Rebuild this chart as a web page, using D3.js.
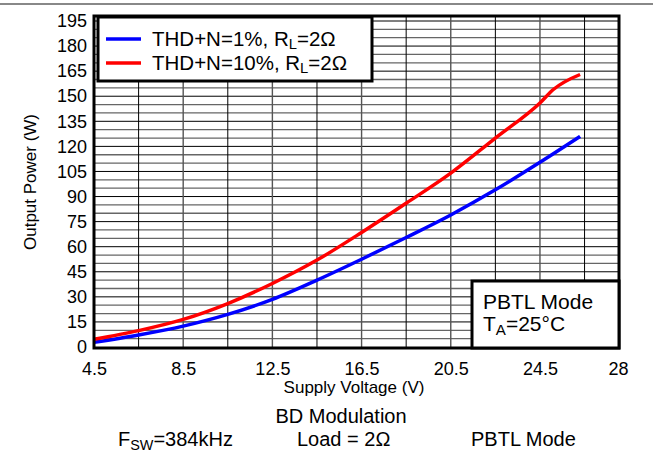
<!DOCTYPE html>
<html><head><meta charset="utf-8">
<script src="https://cdn.jsdelivr.net/npm/d3@7/dist/d3.min.js"></script>
<style>
html,body{margin:0;padding:0;background:#fff;}
svg{display:block;font-family:"Liberation Sans",Arial,sans-serif;}
</style></head><body>
<svg id="c" width="653" height="456"></svg>
<script>
// ---- data ----
const voltage1 = [4.5, 6.5, 8.5, 10.5, 12.5, 14.5, 16.5, 18.5, 20.5, 22.5, 24.5, 26.3];
const power1   = [2.8, 7.2, 12.5, 19.5, 28.5, 40, 52.5, 65.5, 79, 94, 110.5, 126];
const voltage10 = [4.5, 6.5, 8.5, 10.5, 12.5, 14.5, 16.5, 18.5, 20.5, 22.5, 24.5, 25.1, 26.3];
const power10   = [4.6, 9.8, 16.5, 26, 38, 52, 68.5, 86, 104, 125, 146, 154, 163];
const xTicks = [4.5, 8.5, 12.5, 16.5, 20.5, 24.5, 28];
const yTicks = [0, 15, 30, 45, 60, 75, 90, 105, 120, 135, 150, 165, 180, 195];
const seriesNames = ["THD+N=1%, R|L|=2Ω", "THD+N=10%, R|L|=2Ω"];
const seriesColors = ["#0000ff", "#ff0000"];

const svg = d3.select("#c");
const L = 94, R = 619, T = 16, B = 347;
const x = d3.scaleLinear().domain([4.5, 28]).range([L, R - 1]);
const y = d3.scaleLinear().domain([0, 195]).range([B, 21]);

// top rule
svg.append("line").attr("x1", 0).attr("x2", 653).attr("y1", 4).attr("y2", 4)
  .attr("stroke", "#888").attr("stroke-width", 2);

// grid
const g = svg.append("g");
d3.range(5, 196, 5).forEach(v => {
  g.append("line").attr("x1", L).attr("x2", R).attr("y1", y(v)).attr("y2", y(v))
    .attr("stroke", v % 15 === 0 ? "#000" : "#666").attr("stroke-width", v % 15 === 0 ? 1 : 1.3);
});
d3.range(6.5, 27, 2).forEach(v => {
  g.append("line").attr("x1", x(v)).attr("x2", x(v)).attr("y1", T).attr("y2", B)
    .attr("stroke", (v - 4.5) % 4 === 0 ? "#555" : "#000").attr("stroke-width", (v - 4.5) % 4 === 0 ? 1.4 : 1);
});

// curves
const line = d3.line().x(d => x(d[0])).y(d => y(d[1])).curve(d3.curveMonotoneX);
svg.append("path").datum(voltage1.map((v, i) => [v, power1[i]]))
  .attr("d", line).attr("fill", "none").attr("stroke", seriesColors[0]).attr("stroke-width", 3.5);
svg.append("path").datum(voltage10.map((v, i) => [v, power10[i]]))
  .attr("d", line).attr("fill", "none").attr("stroke", seriesColors[1]).attr("stroke-width", 3.5);

// frame
svg.append("rect").attr("x", L).attr("y", T).attr("width", R - L).attr("height", B - T + 1)
  .attr("fill", "none").attr("stroke", "#000").attr("stroke-width", 3);

// axes
const xAxis = svg.append("g").attr("transform", `translate(0,${B})`)
  .call(d3.axisBottom(x).tickValues(xTicks).tickSize(0).tickPadding(15).tickFormat(d3.format("")));
xAxis.select(".domain").remove();
xAxis.selectAll("text").attr("font-size", 18).attr("fill", "#000").attr("font-family", "Liberation Sans, Arial, sans-serif");
const yAxis = svg.append("g").attr("transform", `translate(${L},0)`)
  .call(d3.axisLeft(y).tickValues(yTicks).tickSize(0).tickPadding(7));
yAxis.select(".domain").remove();
yAxis.selectAll("text").attr("font-size", 18).attr("fill", "#000").attr("font-family", "Liberation Sans, Arial, sans-serif");

svg.append("text").attr("x", 354).attr("y", 393).attr("text-anchor", "middle")
  .attr("font-size", 17).text("Supply Voltage (V)");
svg.append("text").attr("transform", "translate(36,182) rotate(-90)").attr("text-anchor", "middle")
  .attr("font-size", 17).text("Output Power (W)");

// helper for subscript text "A|sub|B"
function richText(sel, str, size, drop) {
  const d = drop === undefined ? 0.25 : drop;
  const parts = str.split("|");
  parts.forEach((p, i) => {
    const ts = sel.append("tspan").text(p);
    if (i === 1) ts.attr("font-size", size * 0.72).attr("dy", size * d);
    if (i === 2) ts.attr("dy", -size * d);
  });
}

// legend
svg.append("rect").attr("x", 98).attr("y", 17).attr("width", 274).attr("height", 64)
  .attr("fill", "#fff").attr("stroke", "#000").attr("stroke-width", 3);
seriesNames.forEach((n, i) => {
  const yy = 39 + i * 24;
  svg.append("line").attr("x1", 106).attr("x2", 141).attr("y1", yy).attr("y2", yy)
    .attr("stroke", seriesColors[i]).attr("stroke-width", 3.5);
  richText(svg.append("text").attr("x", 152).attr("y", yy + 7).attr("font-size", 20.5), n, 20.5, 0.16);
});

// condition box
svg.append("rect").attr("x", 472).attr("y", 281).attr("width", 147).attr("height", 67)
  .attr("fill", "#fff").attr("stroke", "#000").attr("stroke-width", 3);
svg.append("text").attr("x", 483).attr("y", 309).attr("font-size", 21).text("PBTL Mode");
richText(svg.append("text").attr("x", 483).attr("y", 331).attr("font-size", 21), "T|A|=25°C", 21, 0.2);

// bottom notes
svg.append("text").attr("x", 341).attr("y", 423).attr("text-anchor", "middle").attr("font-size", 20).text("BD Modulation");
richText(svg.append("text").attr("x", 118).attr("y", 446).attr("font-size", 20), "F|SW|=384kHz", 20, 0.2);
svg.append("text").attr("x", 297).attr("y", 446).attr("font-size", 20).text("Load = 2Ω");
svg.append("text").attr("x", 471).attr("y", 446).attr("font-size", 20).text("PBTL Mode");
</script>
</body></html>
